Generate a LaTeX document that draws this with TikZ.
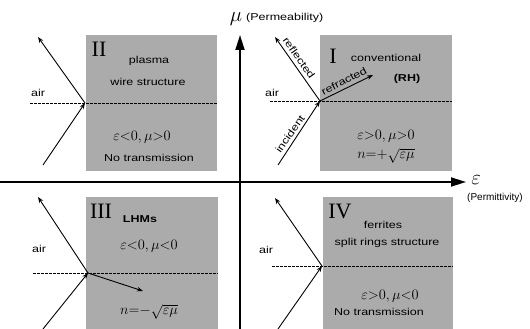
\documentclass[tikz,border=0pt]{standalone}
\usepackage{fontspec}
\newfontfamily\lbl[FakeStretch=1.25]{Liberation Sans}
\newfontfamily\lbln{Liberation Sans}
\newfontfamily\rmn{Liberation Serif}
\usetikzlibrary{arrows.meta}
\begin{document}
\begin{tikzpicture}[x=1pt,y=-1pt,
  box/.style={fill=black!33,draw=none},
  ray/.style={line width=0.9pt,-{Stealth[length=6pt,width=4.5pt]}},
  iface/.style={dash pattern=on 2.5pt off 1.5pt, line width=0.7pt},
  axis/.style={line width=1.8pt,-{Triangle[length=15pt,width=9pt]}},
  lab/.style={font=\lbl\fontsize{10}{12}\selectfont, inner sep=0pt},
  blab/.style={font=\lbl\bfseries\fontsize{10}{12}\selectfont, inner sep=0pt},
  mth/.style={font=\fontsize{14}{16}\selectfont, inner sep=0pt},
  rom/.style={font=\rmn\fontsize{22}{24}\selectfont, inner sep=0pt}]
\useasboundingbox (0,0) rectangle (530,329);
% boxes
\fill[box] (86,35) rectangle (217,171);
\fill[box] (320,35) rectangle (452,171);
\fill[box] (86,197) rectangle (218,329);
\fill[box] (323,197) rectangle (453,329);
% axes
\coordinate (vb) at (240,329);
\coordinate (vt) at (240,35);
\coordinate (hl) at (0,182);
\coordinate (hr) at (466,182);
\draw[axis] (vb) -- (vt);
\draw[axis] (hl) -- (hr);
\node[font=\fontsize{20}{20}\selectfont, inner sep=0pt] (mu) at (236,19) {$\mu$};
\node[lab,anchor=west] (perm) at (246,18) {(Permeability)};
\node[font=\fontsize{20}{20}\selectfont, inner sep=0pt] (eps) at (476,180) {$\varepsilon$};
\node[font=\lbln\fontsize{10}{12}\selectfont, inner sep=0pt, anchor=west] (permi) at (467,198) {(Permittivity)};
% ---------- quadrant II
\coordinate (p2) at (85,103);
\coordinate (d2a) at (30,103);
\coordinate (d2b) at (217,103);
\coordinate (i2) at (43,165);
\coordinate (r2) at (38,37);
\draw[iface] (d2a) -- (d2b);
\draw[ray] (i2) -- (p2);
\draw[ray] (p2) -- (r2);
\node[lab] (air2) at (38,93) {air};
\node[rom] (n2) at (99,49) {II};
\node[lab] (pl) at (149,61) {plasma};
\node[lab] (wire) at (148,82) {wire structure};
\node[mth] (c2) at (142,137) {$\varepsilon{<}0,\mu{>}0$};
\node[lab] (nt2) at (149,158) {No transmission};
% ---------- quadrant I
\coordinate (p1) at (320,101);
\coordinate (d1a) at (270,101);
\coordinate (d1b) at (452,101);
\coordinate (i1) at (278,165);
\coordinate (r1) at (275,37);
\coordinate (t1) at (373,75);
\draw[iface] (d1a) -- (d1b);
\draw[ray] (i1) -- (p1);
\draw[ray] (p1) -- (r1);
\draw[ray] (p1) -- (t1);
\node[lab] (air1) at (272,93) {air};
\node[lab,rotate=-55] (refl) at (299,58) {reflected};
\node[lab,rotate=27] (refr) at (344,81) {refracted};
\node[lab,rotate=55] (inc) at (290,134) {incident};
\node[rom] (n1) at (333,56) {I};
\node[lab] (conv) at (386,58) {conventional};
\node[blab] (rh) at (407,79) {(RH)};
\node[mth] (c1) at (386,136) {$\varepsilon{>}0,\mu{>}0$};
\node[mth] (n1e) at (386,156) {$n{=}{+}\sqrt{\varepsilon\mu}$};
% ---------- quadrant III
\coordinate (p3) at (88,273);
\coordinate (d3a) at (33,273);
\coordinate (d3b) at (218,273);
\coordinate (i3) at (43,329);
\coordinate (r3) at (38,197);
\coordinate (t3) at (143,291);
\draw[iface] (d3a) -- (d3b);
\draw[ray] (i3) -- (p3);
\draw[ray] (p3) -- (r3);
\draw[ray] (p3) -- (t3);
\node[lab] (air3) at (39,249) {air};
\node[rom] (n3) at (101,211) {III};
\node[blab] (lhm) at (140,219) {LHMs};
\node[mth] (c3) at (149,246) {$\varepsilon{<}0,\mu{<}0$};
\node[mth] (n3e) at (149,312) {$n{=}{-}\sqrt{\varepsilon\mu}$};
% ---------- quadrant IV
\coordinate (p4) at (322,266);
\coordinate (d4a) at (272,266);
\coordinate (d4b) at (453,266);
\coordinate (i4) at (278,329);
\coordinate (r4) at (275,198);
\draw[iface] (d4a) -- (d4b);
\draw[ray] (i4) -- (p4);
\draw[ray] (p4) -- (r4);
\node[lab] (air4) at (266,250) {air};
\node[rom] (n4) at (340,211) {IV};
\node[lab] (fer) at (383,225) {ferrites};
\node[lab] (split) at (387,243) {split rings structure};
\node[mth] (c4) at (390,296) {$\varepsilon{>}0,\mu{<}0$};
\node[lab] (nt4) at (379,312) {No transmission};
\end{tikzpicture}
\end{document}
